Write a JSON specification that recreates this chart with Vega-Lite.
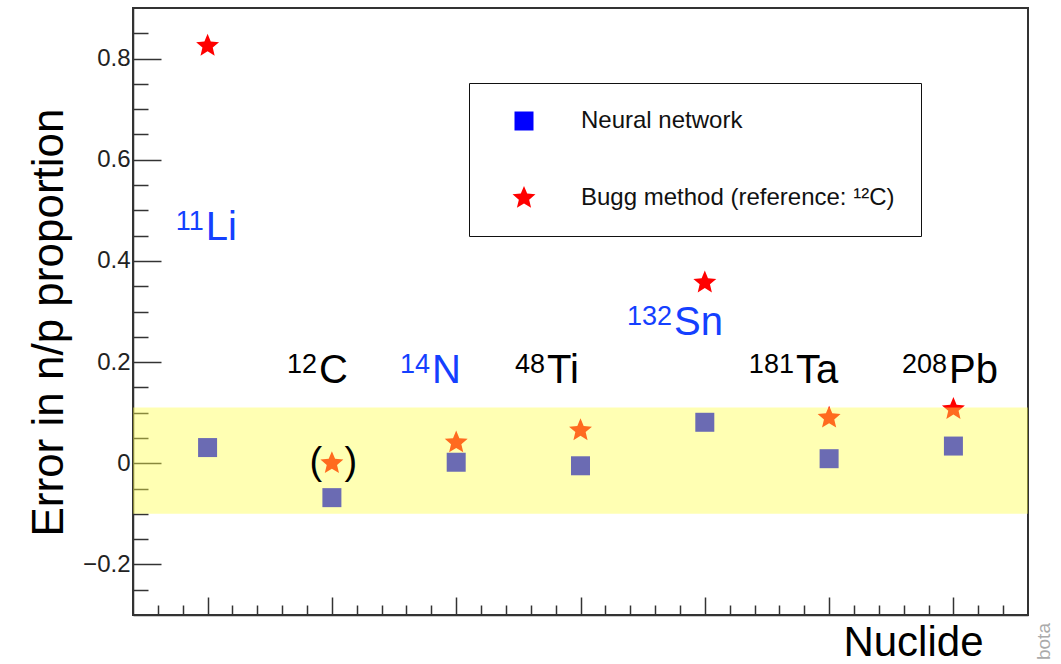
{
  "$schema": "https://vega.github.io/schema/vega-lite/v6.json",
  "autosize": {"type": "none"},
  "padding": {"left": 133, "top": 8, "right": 33, "bottom": 49},
  "width": 895,
  "height": 607,
  "background": "white",
  "config": {
    "font": "Liberation Sans",
    "view": {"stroke": "#333", "strokeWidth": 2},
    "axis": {"grid": false, "domainColor": "#333", "domainWidth": 1.5, "tickColor": "#333", "tickWidth": 1.5}
  },
  "datasets": {
    "pts": [
      {"nuclide": "11Li", "idx": 1, "series": "Neural network", "err": 0.031},
      {"nuclide": "12C", "idx": 2, "series": "Neural network", "err": -0.068},
      {"nuclide": "14N", "idx": 3, "series": "Neural network", "err": 0.002},
      {"nuclide": "48Ti", "idx": 4, "series": "Neural network", "err": -0.005},
      {"nuclide": "132Sn", "idx": 5, "series": "Neural network", "err": 0.081},
      {"nuclide": "181Ta", "idx": 6, "series": "Neural network", "err": 0.009},
      {"nuclide": "208Pb", "idx": 7, "series": "Neural network", "err": 0.034},
      {"nuclide": "11Li", "idx": 1, "series": "Bugg method (reference: ¹²C)", "err": 0.825},
      {"nuclide": "12C", "idx": 2, "series": "Bugg method (reference: ¹²C)", "err": 0.0},
      {"nuclide": "14N", "idx": 3, "series": "Bugg method (reference: ¹²C)", "err": 0.041},
      {"nuclide": "48Ti", "idx": 4, "series": "Bugg method (reference: ¹²C)", "err": 0.065},
      {"nuclide": "132Sn", "idx": 5, "series": "Bugg method (reference: ¹²C)", "err": 0.357},
      {"nuclide": "181Ta", "idx": 6, "series": "Bugg method (reference: ¹²C)", "err": 0.09},
      {"nuclide": "208Pb", "idx": 7, "series": "Bugg method (reference: ¹²C)", "err": 0.107}
    ],
    "labels": [
      {"mass": "11", "sym": "Li", "lx": 0.978, "ly": 0.441},
      {"mass": "12", "sym": "C", "lx": 1.888, "ly": 0.159},
      {"mass": "14", "sym": "N", "lx": 2.797, "ly": 0.159},
      {"mass": "48", "sym": "Ti", "lx": 3.722, "ly": 0.159},
      {"mass": "132", "sym": "Sn", "lx": 4.744, "ly": 0.254},
      {"mass": "181", "sym": "Ta", "lx": 5.725, "ly": 0.159},
      {"mass": "208", "sym": "Pb", "lx": 6.956, "ly": 0.159}
    ],
    "band": [{"lo": -0.1, "hi": 0.11}],
    "paren": [{"idx": 2, "err": 0.0}],
    "note": [{"t": "bota", "nx": 7.777, "ny": -0.389}]
  },
  "layer": [
    {
      "data": {"name": "pts"},
      "mark": {"type": "point", "filled": true, "size": 361, "opacity": 1, "strokeWidth": 0},
      "encoding": {
        "x": {
          "field": "idx", "type": "quantitative",
          "scale": {"domain": [0.4, 7.6], "nice": false, "zero": false},
          "axis": {
            "values": [0.6, 0.8, 1, 1.2, 1.4, 1.6, 1.8, 2, 2.2, 2.4, 2.6, 2.8, 3, 3.2, 3.4, 3.6, 3.8, 4, 4.2, 4.4, 4.6, 4.8, 5, 5.2, 5.4, 5.6, 5.8, 6, 6.2, 6.4, 6.6, 6.8, 7, 7.2, 7.4],
            "tickCount": 200,
            "tickSize": {"condition": {"test": "abs(datum.value-round(datum.value))<1e-6", "value": -18}, "value": -10},
            "labels": false,
            "title": "Nuclide",
            "titleFontSize": 42,
            "titleFontWeight": "normal",
            "titleColor": "black",
            "titleAlign": "right",
            "titleBaseline": "alphabetic",
            "titleX": 850,
            "titleY": 40
          }
        },
        "y": {
          "field": "err", "type": "quantitative",
          "scale": {"domain": [-0.3, 0.9], "nice": false, "zero": false},
          "axis": {
            "values": [-0.25, -0.2, -0.15, -0.1, -0.05, 0, 0.05, 0.1, 0.15, 0.2, 0.25, 0.3, 0.35, 0.4, 0.45, 0.5, 0.55, 0.6, 0.65, 0.7, 0.75, 0.8, 0.85],
            "tickCount": 200,
            "tickSize": {"condition": {"test": "abs(datum.value*5-round(datum.value*5))<1e-6", "value": -28}, "value": -15},
            "labelExpr": "abs(datum.value*5-round(datum.value*5))<1e-6 ? format(datum.value, '.1~f') : ''",
            "labelFontSize": 24,
            "labelColor": "#222",
            "labelPadding": 31,
            "labelOverlap": false,
            "title": "Error in n/p proportion",
            "titleFontSize": 44,
            "titleFontWeight": "normal",
            "titleColor": "black",
            "titleAngle": 270,
            "titleAlign": "center",
            "titleBaseline": "alphabetic",
            "titleX": -71,
            "titleY": 314
          }
        },
        "color": {
          "field": "series", "type": "nominal",
          "scale": {"domain": ["Neural network", "Bugg method (reference: ¹²C)"], "range": ["#0000ff", "#ff0000"]},
          "legend": {
            "orient": "none", "legendX": 336, "legendY": 75, "title": null,
            "strokeColor": "#111", "fillColor": "white", "padding": 26,
            "symbolOffset": 17, "labelOffset": 45, "rowPadding": 52,
            "labelFontSize": 24, "labelColor": "#111", "symbolSize": 361,
            "symbolStrokeWidth": 0, "labelLimit": 400
          }
        },
        "shape": {
          "field": "series", "type": "nominal",
          "scale": {"domain": ["Neural network", "Bugg method (reference: ¹²C)"], "range": ["square", "M0,-1.27L0.335,-0.461L1.208,-0.392L0.542,0.176L0.747,1.027L0,0.57L-0.747,1.027L-0.542,0.176L-1.208,-0.392L-0.335,-0.461Z"]},
          "legend": {
            "orient": "none", "legendX": 336, "legendY": 75, "title": null,
            "strokeColor": "#111", "fillColor": "white", "padding": 26,
            "symbolOffset": 17, "labelOffset": 45, "rowPadding": 52,
            "labelFontSize": 24, "labelColor": "#111", "symbolSize": 361,
            "symbolStrokeWidth": 0, "labelLimit": 400
          }
        }
      }
    },
    {
      "data": {"name": "band"},
      "mark": {"type": "rect", "color": "#ffff4b", "opacity": 0.42},
      "encoding": {
        "y": {"field": "lo", "type": "quantitative"},
        "y2": {"field": "hi"}
      }
    },
    {
      "data": {"name": "paren"},
      "mark": {"type": "text", "text": "(", "fontSize": 38, "dx": -16, "align": "center", "baseline": "middle", "color": "black"},
      "encoding": {
        "x": {"field": "idx", "type": "quantitative"},
        "y": {"field": "err", "type": "quantitative"}
      }
    },
    {
      "data": {"name": "paren"},
      "mark": {"type": "text", "text": ")", "fontSize": 38, "dx": 19, "align": "center", "baseline": "middle", "color": "black"},
      "encoding": {
        "x": {"field": "idx", "type": "quantitative"},
        "y": {"field": "err", "type": "quantitative"}
      }
    },
    {
      "data": {"name": "labels"},
      "mark": {"type": "text", "fontSize": 27, "align": "right", "baseline": "alphabetic", "dx": -1, "dy": -10},
      "encoding": {
        "x": {"field": "lx", "type": "quantitative"},
        "y": {"field": "ly", "type": "quantitative"},
        "text": {"field": "mass"},
        "color": {"condition": {"test": "indexof(['Li','N','Sn'], datum.sym) >= 0", "value": "#1440ff"}, "value": "black"}
      }
    },
    {
      "data": {"name": "labels"},
      "mark": {"type": "text", "fontSize": 40, "align": "left", "baseline": "alphabetic", "dx": 1},
      "encoding": {
        "x": {"field": "lx", "type": "quantitative"},
        "y": {"field": "ly", "type": "quantitative"},
        "text": {"field": "sym"},
        "color": {"condition": {"test": "indexof(['Li','N','Sn'], datum.sym) >= 0", "value": "#1440ff"}, "value": "black"}
      }
    },
    {
      "data": {"name": "note"},
      "mark": {"type": "text", "fontSize": 19, "angle": 270, "align": "left", "baseline": "alphabetic", "color": "#aaa"},
      "encoding": {
        "x": {"field": "nx", "type": "quantitative"},
        "y": {"field": "ny", "type": "quantitative"},
        "text": {"field": "t"}
      }
    }
  ]
}
